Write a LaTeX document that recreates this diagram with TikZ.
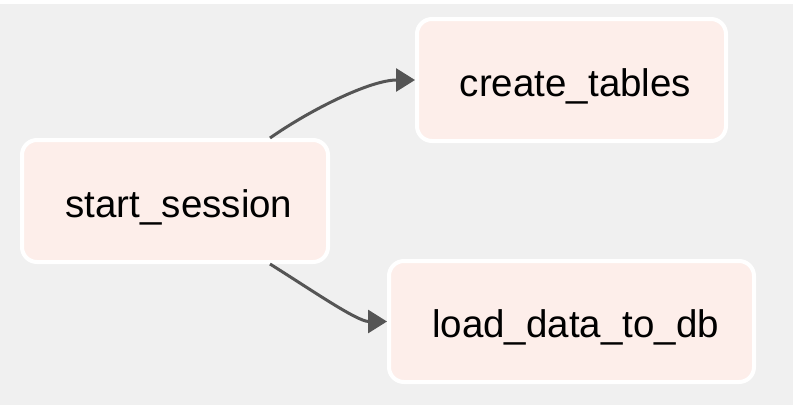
\documentclass[tikz,border=0pt]{standalone}
\usepackage{fontspec}
\setmainfont{Liberation Sans}
\usetikzlibrary{arrows.meta}
\definecolor{bggray}{HTML}{F0F0F0}
\definecolor{taskfill}{HTML}{FDEEEA}
\definecolor{edgegray}{HTML}{555555}
\tikzset{
  task/.style={draw=white, line width=4pt, fill=taskfill, rounded corners=15pt,
    inner sep=0pt, text height=32pt, text depth=0pt,
    font=\fontsize{38.5}{46}\selectfont, text=black},
  flow/.style={draw=edgegray, line width=3pt, -{Triangle[length=19pt,width=23pt]}}
}
\newcommand{\tasklabel}[1]{\hspace*{8pt}#1}
\begin{document}
\begin{tikzpicture}[x=1pt,y=-1pt]
\useasboundingbox (0,0) rectangle (793,405);
\fill[white] (0,0) rectangle (793,405);
\fill[bggray] (0,4) rectangle (793,405);
\node[task, minimum width=306pt, minimum height=122pt] (s) at (175,201) {\tasklabel{start\_session}};
\node[task, minimum width=309pt, minimum height=122pt] (c) at (571.5,80) {\tasklabel{create\_tables}};
\node[task, minimum width=365pt, minimum height=121pt] (l) at (571.5,321.5) {\tasklabel{load\_data\_to\_db}};
\draw[flow] ([xshift=95pt]s.north) .. controls +(40,-28) and +(-45,0) .. (c.west);
\draw[flow] ([xshift=95pt]s.south) .. controls +(40,25) and +(-30,0) .. (l.west);
\end{tikzpicture}
\end{document}
